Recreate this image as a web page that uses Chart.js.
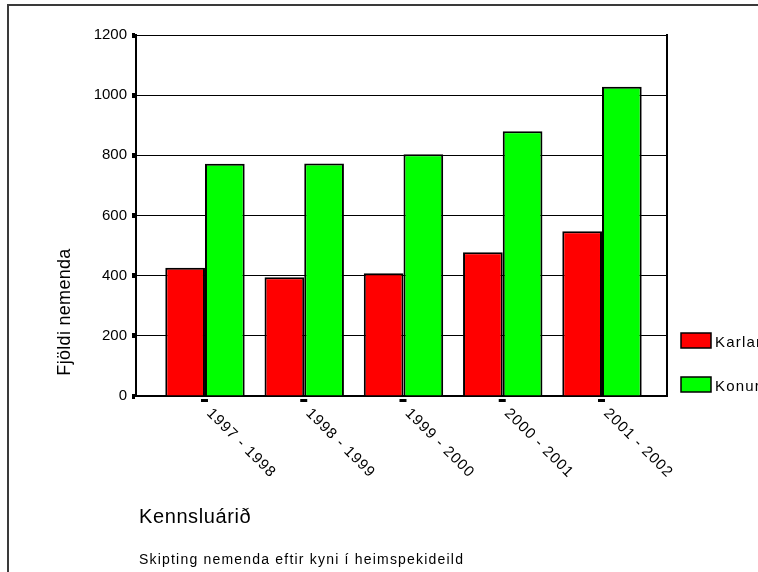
<!DOCTYPE html>
<html>
<head>
<meta charset="utf-8">
<script src="https://cdn.jsdelivr.net/npm/chart.js@4/dist/chart.umd.min.js"></script>
<style>
  html, body { margin: 0; padding: 0; background: #fff; }
  #wrap { position: relative; width: 758px; height: 572px; }
</style>
</head>
<body>
<div id="wrap"><canvas id="chart" width="758" height="572"></canvas></div>
<script>
// Kennsluár og fjöldi nemenda eftir kyni
const labels = ["1997 - 1998", "1998 - 1999", "1999 - 2000", "2000 - 2001", "2001 - 2002"];
const karlar = [426, 395, 408, 478, 548];
const konur = [772, 773, 804, 880, 1028];
const yTicks = [0, 200, 400, 600, 800, 1000, 1200];

const FONT = "'Liberation Sans', Arial, sans-serif";
Chart.defaults.font.family = FONT;
Chart.defaults.color = "#000";

// Texts, frame, legend and x labels drawn around the plot
const extras = {
  id: "extras",
  beforeDraw(chart) {
    const ctx = chart.ctx;
    ctx.save();
    ctx.strokeStyle = "#3a3a3a";
    ctx.lineWidth = 2;
    ctx.beginPath();
    ctx.moveTo(758, 5);
    ctx.lineTo(8, 5);
    ctx.lineTo(8, 572);
    ctx.stroke();
    ctx.restore();
  },
  afterDraw(chart) {
    const ctx = chart.ctx;
    const area = chart.chartArea;
    const xs = chart.scales.x;
    ctx.save();

    // right frame of plot
    ctx.strokeStyle = "#000";
    ctx.lineWidth = 2;
    ctx.beginPath();
    ctx.moveTo(area.right, area.top - 1);
    ctx.lineTo(area.right, area.bottom + 1);
    ctx.stroke();

    // x ticks and rotated labels
    ctx.fillStyle = "#000";
    ctx.font = "15px " + FONT;
    ctx.letterSpacing = "1px";
    labels.forEach((lab, i) => {
      const x = xs.getPixelForValue(i + 1);
      ctx.fillRect(x - 4, area.bottom + 3, 7, 3);
      ctx.save();
      ctx.translate(x + 4, area.bottom + 15);
      ctx.rotate(Math.PI / 4);
      ctx.textAlign = "left";
      ctx.textBaseline = "middle";
      ctx.fillText(lab, 0, 0);
      ctx.restore();
    });

    // y title
    ctx.save();
    ctx.letterSpacing = "0.3px";
    ctx.font = "18px " + FONT;
    ctx.translate(65, 312);
    ctx.rotate(-Math.PI / 2);
    ctx.textAlign = "center";
    ctx.textBaseline = "middle";
    ctx.fillText("Fjöldi nemenda", 0, 0);
    ctx.restore();

    // x title and caption
    ctx.textAlign = "left";
    ctx.textBaseline = "alphabetic";
    ctx.font = "20px " + FONT;
    ctx.letterSpacing = "0.6px";
    ctx.fillText("Kennsluárið", 139, 523);
    ctx.font = "14px " + FONT;
    ctx.letterSpacing = "1.2px";
    ctx.fillText("Skipting nemenda eftir kyni í heimspekideild", 139, 564);

    // legend
    ctx.letterSpacing = "1.2px";
    ctx.font = "15px " + FONT;
    chart.data.datasets.forEach((ds, i) => {
      const bx = area.right + 14;
      const by = area.bottom - 63 + i * 44;
      ctx.fillStyle = ds.backgroundColor;
      ctx.fillRect(bx, by, 30, 15);
      ctx.strokeStyle = "#000";
      ctx.lineWidth = 1.5;
      ctx.strokeRect(bx, by, 30, 15);
      ctx.fillStyle = "#000";
      ctx.fillText(ds.label, bx + 34, by + 14);
    });
    ctx.restore();
  }
};

new Chart(document.getElementById("chart"), {
  type: "bar",
  data: {
    datasets: [{
      label: "Karlar",
      data: karlar.map((v, i) => ({ x: i + 1, y: v })),
      backgroundColor: "#ff0000",
      borderColor: "#000",
      borderWidth: 2,
      categoryPercentage: 0.8,
      barPercentage: 1.0
    }, {
      label: "Konur",
      data: konur.map((v, i) => ({ x: i + 1, y: v })),
      backgroundColor: "#00ff00",
      borderColor: "#000",
      borderWidth: 2,
      categoryPercentage: 0.8,
      barPercentage: 1.0
    }]
  },
  options: {
    responsive: false,
    animation: false,
    layout: { padding: { left: 76, top: 35, right: 91, bottom: 0 } },
    plugins: {
      legend: { display: false },
      tooltip: { enabled: false }
    },
    scales: {
      x: {
        type: "linear",
        offset: false,
        min: 0.305,
        max: 5.655,
        afterBuildTicks(scale) { scale.ticks = labels.map((l, i) => ({ value: i + 1 })); },
        grid: { display: false, offset: false },
        border: { display: true, color: "#000", width: 2 },
        ticks: { display: false },
        afterFit(scale) { scale.height = 176; }
      },
      y: {
        min: 0,
        max: 1200,
        afterBuildTicks(scale) { scale.ticks = yTicks.map(v => ({ value: v })); },
        grid: { color: "#000", lineWidth: 1, tickLength: 4, tickWidth: 5, tickColor: "#000" },
        border: { color: "#000", width: 2 },
        ticks: {
          font: { size: 15 },
          color: "#000",
          padding: 5,
          callback: v => String(v)
        },
        afterFit(scale) { scale.width = 60; }
      }
    }
  },
  plugins: [extras]
});
</script>
</body>
</html>
